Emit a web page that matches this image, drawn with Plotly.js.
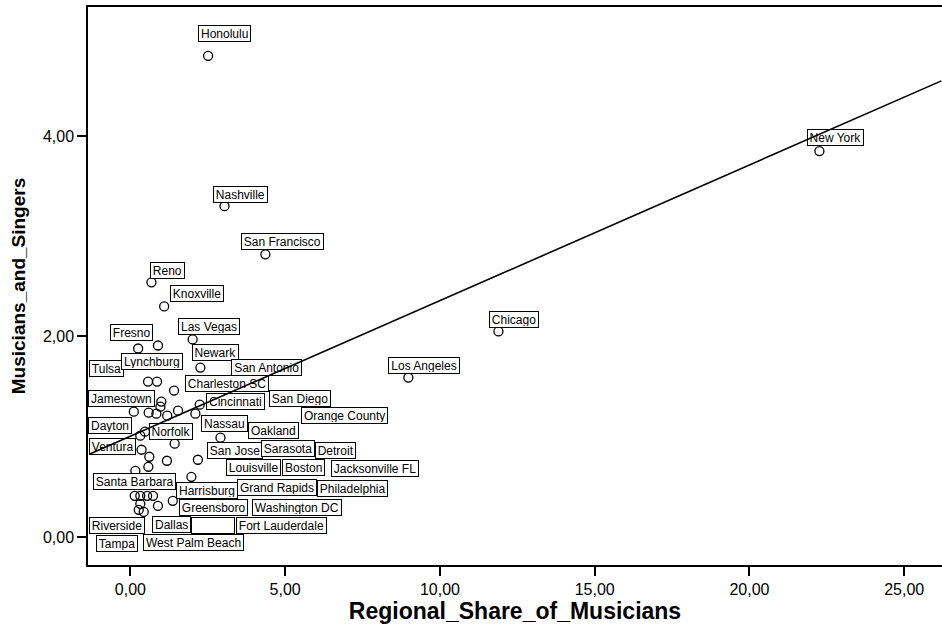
<!DOCTYPE html>
<html>
<head>
<meta charset="utf-8">
<script src="https://cdn.plot.ly/plotly-3.0.1.min.js"></script>
<style>
  html, body { margin: 0; padding: 0; background: #fff; }
  #chart { width: 942px; height: 628px; }
</style>
</head>
<body>
<div id="chart"></div>
<script>
// ---- data ----
const cities = [
  'Honolulu', 'New York', 'Nashville', 'San Francisco', 'Reno', 'Knoxville', 'Chicago', 'Las Vegas',
  'Fresno', '', 'Newark', 'Los Angeles', 'Tulsa', 'Lynchburg', 'San Antonio', 'Jamestown',
  'Cincinnati', 'Dayton', '', '', 'Orange County', 'Charleston SC', 'San Diego', 'Nassau',
  'Norfolk', 'Ventura', 'Oakland', 'San Jose', 'Jacksonville FL', 'Boston', 'Detroit', 'Sarasota',
  'Harrisburg', 'Santa Barbara', 'Louisville', 'Riverside', 'West Palm Beach', 'Washington DC',
  'Philadelphia', 'Grand Rapids', 'Greensboro', 'Fort Lauderdale', 'Tampa', 'Dallas'
];
const regionalShareOfMusicians = [
  2.51, 22.26, 3.04, 4.36, 0.68, 1.09, 11.89, 2.01,
  0.25, 0.89, 2.26, 8.98, 0.57, 0.86, 1.41, 1.00,
  2.24, 0.11, 0.59, 0.84, 0.97, 1.19, 1.54, 2.10,
  0.47, 0.32, 2.91, 1.43, 0.36, 0.61, 1.18, 2.18,
  0.58, 0.16, 1.97, 0.14, 0.32, 0.54,
  0.73, 1.37, 0.89, 0.32, 0.27, 0.43
];
const musiciansAndSingers = [
  4.80, 3.85, 3.30, 2.82, 2.54, 2.30, 2.05, 1.97,
  1.88, 1.91, 1.69, 1.59, 1.55, 1.55, 1.46, 1.35,
  1.32, 1.25, 1.24, 1.23, 1.30, 1.21, 1.26, 1.23,
  1.05, 1.01, 0.99, 0.93, 0.87, 0.80, 0.76, 0.77,
  0.70, 0.66, 0.60, 0.41, 0.41, 0.41,
  0.41, 0.36, 0.31, 0.33, 0.27, 0.25
];
// fit line end points
const fitLineX = [-1.36, 26.2];
const fitLineY = [0.82, 4.55];
const xTickValues = [0, 5, 10, 15, 20, 25];
const xTickLabels = ['0,00', '5,00', '10,00', '15,00', '20,00', '25,00'];
const yTickValues = [0, 2, 4];
const yTickLabels = ['0,00', '2,00', '4,00'];

// ---- label placement (pixel offsets of each label box from its point; null = no label) ----
const labelOffsets = [
  [16,22],[16,14],[16,12],[17,13],[16,12],[33,13],[16,12],[16,13],
  [-7,16],null,[15,15],[16,12],[-42,13],[-5,20],[92,23],[-40,3],
  [36,3],[-24,-14],null,[57,-111.5],[184,-9],[60,32],[122,12],[29,-10],
  [26,0],[-28,-11],[53,7],[60,-7],[233,-19],[154,-11],[169,10],[90,11],
  [59,-24],[-1,-10.5],[62,9],[-18,-29.5],[53,-47],[150,-12],
  [199,7],[104,13.5],[56,-2],[141,-22],[-22,-34],[28,-13]
];

const FONT = 'Arial, "Liberation Sans", Helvetica, sans-serif';
const ctx = document.createElement('canvas').getContext('2d');
ctx.font = '12px Arial, "Liberation Sans", sans-serif';
function textW(t) { return ctx.measureText(t).width; }

const annotations = [];
cities.forEach((name, i) => {
  const off = labelOffsets[i];
  if (!off) return;
  const w = name ? textW(name) + 2 : 40;
  annotations.push({
    x: regionalShareOfMusicians[i], y: musiciansAndSingers[i], xref: 'x', yref: 'y',
    text: name || '\u00a0', showarrow: false,
    xshift: off[0], yshift: off[1],
    xanchor: 'center', yanchor: 'middle',
    width: w, height: 13,
    font: { family: FONT, size: 12, color: '#000' },
    bgcolor: '#fff', bordercolor: '#000', borderwidth: 1, borderpad: 1
  });
});
// fit line drawn last so it lies over the label boxes, as in the reference
annotations.push({
  x: fitLineX[1], y: fitLineY[1], xref: 'x', yref: 'y',
  ax: fitLineX[0], ay: fitLineY[0], axref: 'x', ayref: 'y',
  text: '', showarrow: true, arrowhead: 0, arrowwidth: 1.6, arrowcolor: '#000',
  standoff: 0, startstandoff: 0
});

const trace = {
  type: 'scatter', mode: 'markers',
  x: regionalShareOfMusicians, y: musiciansAndSingers, text: cities,
  marker: { symbol: 'circle-open', size: 9, color: '#000', line: { width: 1.3, color: '#000' } },
  hoverinfo: 'text+x+y'
};

const axisCommon = {
  ticks: 'outside', ticklen: 9, tickwidth: 1.5, tickcolor: '#000',
  showline: true, linewidth: 1.5, linecolor: '#000',
  showgrid: false, zeroline: false, tickmode: 'array',
  tickfont: { family: FONT, size: 16, color: '#000' }
};

const layout = {
  width: 942, height: 628,
  margin: { l: 88, r: 0, t: 7, b: 63, pad: 0 },
  paper_bgcolor: '#fff', plot_bgcolor: '#fff',
  showlegend: false,
  font: { family: FONT, color: '#000' },
  xaxis: Object.assign({}, axisCommon, {
    range: [-1.37, 26.22], tickvals: xTickValues, ticktext: xTickLabels, mirror: true,
    title: { text: '<b>Regional_Share_of_Musicians</b>', font: { family: FONT, size: 23, color: '#000' }, standoff: 6 }
  }),
  yaxis: Object.assign({}, axisCommon, {
    range: [-0.28, 5.287], tickvals: yTickValues, ticktext: yTickLabels, mirror: false,
    title: { text: '<b>Musicians_and_Singers</b>', font: { family: FONT, size: 19, color: '#000' }, standoff: 12 }
  }),
  annotations: annotations
};

Plotly.newPlot('chart', [trace], layout, { displayModeBar: false, responsive: false });
</script>
</body>
</html>
